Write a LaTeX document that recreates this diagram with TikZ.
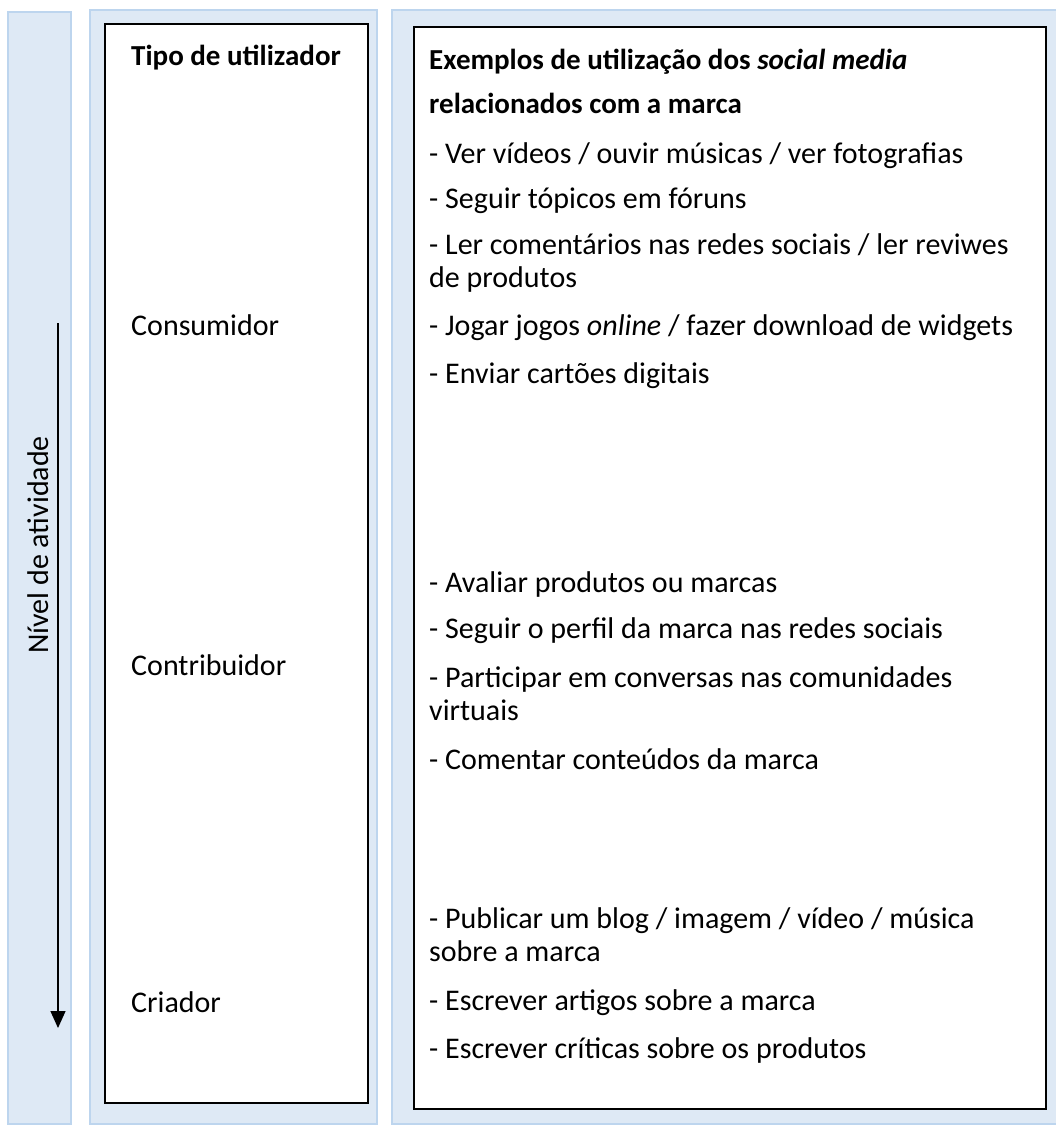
\documentclass[tikz,border=0pt]{standalone}
\usepackage{fontspec}
\setmainfont{Carlito}
\usetikzlibrary{arrows.meta}
\definecolor{bandfill}{HTML}{DEE9F5}
\definecolor{banddraw}{HTML}{BDD5EE}
\tikzset{
  band/.style={fill=bandfill, draw=banddraw, line width=2.2pt},
  whitebox/.style={fill=white, draw=black, line width=1.6pt},
  txt/.style={anchor=base west, inner sep=0pt, font=\fontsize{30}{36}\selectfont},
  btxt/.style={txt, font=\fontsize{29}{36}\selectfont\bfseries},
  levelarrow/.style={line width=1.4pt, -{Triangle[width=15pt,length=17pt]}}
}
\begin{document}
\begin{tikzpicture}[x=1pt,y=-1pt]
\useasboundingbox (0,0) rectangle (1056,1126);
% background bands
\draw[band] (8,12) rectangle (71,1124);
\draw[band] (90,10) rectangle (377,1124);
\draw[band] (392,10) rectangle (1060,1124);
% inner white boxes
\draw[whitebox] (105,24) rectangle (368,1103);
\draw[whitebox] (414,27) rectangle (1046,1109);
% level arrow
\coordinate (arrA) at (58,323);
\coordinate (arrB) at (58,1028);
\draw[levelarrow] (arrA) -- (arrB);
\node[rotate=90, inner sep=0pt, font=\fontsize{30}{36}\selectfont] (nivel) at (38,545) {Nível de atividade};
% middle column
\node[btxt] (tipo) at (131,66) {Tipo de utilizador};
\node[txt] (cons) at (131,335) {Consumidor};
\node[txt] (contr) at (131,675) {Contribuidor};
\node[txt] (criad) at (131,1012) {Criador};
% right column
\node[btxt] (ex1) at (429,70) {Exemplos de utilização dos \textit{social media}};
\node[btxt] (ex2) at (429,114) {relacionados com a marca};
\node[txt] (a1) at (429,164) {- Ver vídeos / ouvir músicas / ver fotografias};
\node[txt] (a2) at (429,208) {- Seguir tópicos em fóruns};
\node[txt] (a3) at (429,254) {- Ler comentários nas redes sociais / ler reviwes};
\node[txt] (a3b) at (429,287) {de produtos};
\node[txt] (a4) at (429,335) {- Jogar jogos \textit{online} / fazer download de widgets};
\node[txt] (a5) at (429,383) {- Enviar cartões digitais};
\node[txt] (b1) at (429,592) {- Avaliar produtos ou marcas};
\node[txt] (b2) at (429,638) {- Seguir o perfil da marca nas redes sociais};
\node[txt] (b3) at (429,687) {- Participar em conversas nas comunidades};
\node[txt] (b3b) at (429,720) {virtuais};
\node[txt] (b4) at (429,769) {- Comentar conteúdos da marca};
\node[txt] (c1) at (429,928) {- Publicar um blog / imagem / vídeo / música};
\node[txt] (c1b) at (429,961) {sobre a marca};
\node[txt] (c2) at (429,1010) {- Escrever artigos sobre a marca};
\node[txt] (c3) at (429,1058) {- Escrever críticas sobre os produtos};
\end{tikzpicture}
\end{document}
